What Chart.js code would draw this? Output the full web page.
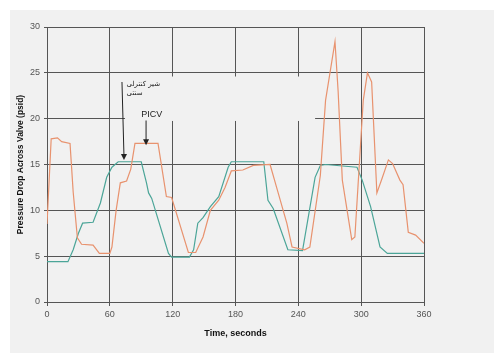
<!DOCTYPE html>
<html>
<head>
<meta charset="utf-8">
<script src="https://cdn.jsdelivr.net/npm/chart.js@4"></script>
<style>
  html, body { margin: 0; padding: 0; background: #fff; }
  #wrap { position: absolute; left: 10px; top: 10px; width: 484px; height: 343px; background: #f1f1f1; }
  canvas { display: block; }
</style>
</head>
<body>
<div id="wrap"><canvas id="chart" width="484" height="343"></canvas></div>
<script>
// PICV (orange)
const picvTime = [0, 4, 10, 14, 22, 25, 29, 33, 44, 50, 60, 62, 66, 70, 76, 80, 84, 106, 114, 119,
  135, 142, 149, 156, 164, 170, 176, 187, 197, 213, 220, 229, 234, 246, 251, 261, 266, 275, 278, 282,
  291, 294, 302, 306, 310, 315, 320, 326, 330, 337, 340, 345, 352, 360];
const picvVal = [8.5, 17.8, 17.9, 17.5, 17.3, 12, 7.0, 6.3, 6.2, 5.3, 5.3, 6.0, 10, 13, 13.2, 14.5, 17.3, 17.3, 11.5, 11.4,
  5.4, 5.4, 7.1, 10, 11.1, 12.5, 14.3, 14.4, 14.9, 15.0, 12.2, 8.6, 6.0, 5.7, 6.0, 13.8, 22, 28.4, 23, 13.3,
  6.8, 7.1, 22, 25.0, 24, 11.9, 13.5, 15.5, 15.1, 13.3, 12.8, 7.6, 7.3, 6.4];

// conventional control valve (green)
const valveTime = [0, 20, 25, 30, 34, 44, 51, 57, 62, 68, 90, 95, 97, 100, 116, 119, 136, 140, 144, 149,
  156, 164, 173, 176, 207, 211, 216, 230, 244, 256, 261, 266, 296, 301, 309, 318, 325, 360];
const valveVal = [4.4, 4.4, 5.7, 7.5, 8.6, 8.7, 10.8, 13.6, 14.7, 15.3, 15.3, 13, 11.9, 11.3, 5.3, 4.9, 4.9, 5.7, 8.6, 9.2,
  10.4, 11.5, 14.7, 15.3, 15.3, 11.1, 10.2, 5.7, 5.6, 13.6, 14.9, 15.0, 14.7, 13.3, 10.4, 6.0, 5.3, 5.3];

const xTicks = [0, 60, 120, 180, 240, 300, 360];
const yTicks = [0, 5, 10, 15, 20, 25, 30];

// annotation labels and arrows, in data units
const labels = [
  { text: 'شیر کنترلی', x: 76, y: 23.8, font: '7px "DejaVu Sans"' },
  { text: 'سنتی', x: 76, y: 22.8, font: '7px "DejaVu Sans"' },
  { text: 'PICV', x: 100, y: 20.5, font: '9px "Liberation Sans", Arial', center: true }
];
const arrows = [
  { x1: 71.6, y1: 24.0, x2: 73.5, y2: 15.5 },
  { x1: 94.6, y1: 19.8, x2: 94.6, y2: 17.1 }
];
// blank area behind the labels (the source hides grid lines there)
const blank = { x1: 74.5, x2: 256, y1: 19.75, y2: 24.6 };

function toPts(t, v) {
  return t.map((x, i) => ({ x: x, y: v[i] }));
}

const annotations = {
  id: 'annotations',
  beforeDatasetsDraw(chart) {
    const { ctx, scales: { x, y } } = chart;
    ctx.save();
    ctx.fillStyle = '#f1f1f1';
    ctx.fillRect(x.getPixelForValue(blank.x1), y.getPixelForValue(blank.y2),
      x.getPixelForValue(blank.x2) - x.getPixelForValue(blank.x1),
      y.getPixelForValue(blank.y1) - y.getPixelForValue(blank.y2));
    ctx.restore();
  },
  afterDatasetsDraw(chart) {
    const { ctx, scales: { x, y } } = chart;
    ctx.save();
    ctx.fillStyle = '#222';
    ctx.strokeStyle = '#222';
    ctx.lineWidth = 1;
    labels.forEach(l => {
      ctx.font = l.font;
      ctx.textBaseline = 'middle';
      ctx.textAlign = l.center ? 'center' : 'left';
      ctx.fillText(l.text, x.getPixelForValue(l.x), y.getPixelForValue(l.y));
    });
    arrows.forEach(a => {
      const px1 = x.getPixelForValue(a.x1), py1 = y.getPixelForValue(a.y1);
      const px2 = x.getPixelForValue(a.x2), py2 = y.getPixelForValue(a.y2);
      ctx.beginPath();
      ctx.moveTo(px1, py1);
      ctx.lineTo(px2, py2 - 4);
      ctx.stroke();
      ctx.beginPath();
      ctx.moveTo(px2, py2);
      ctx.lineTo(px2 - 3, py2 - 6);
      ctx.lineTo(px2 + 3, py2 - 6);
      ctx.closePath();
      ctx.fill();
    });
    ctx.restore();
  }
};

const tickFont = { family: '"Liberation Sans", Arial, sans-serif', size: 9 };

new Chart(document.getElementById('chart'), {
  type: 'line',
  data: {
    datasets: [
      {
        label: 'PICV',
        data: toPts(picvTime, picvVal),
        borderColor: '#e8926e',
        borderWidth: 1.2,
        pointRadius: 0,
        tension: 0
      },
      {
        label: 'Conventional',
        data: toPts(valveTime, valveVal),
        borderColor: '#4ba598',
        borderWidth: 1.2,
        pointRadius: 0,
        tension: 0
      }
    ]
  },
  options: {
    responsive: false,
    animation: false,
    events: [],
    layout: { padding: { left: 0, right: 70, top: 17, bottom: 0 } },
    plugins: { legend: { display: false }, tooltip: { enabled: false } },
    scales: {
      x: {
        type: 'linear',
        min: 0,
        max: 360,
        afterBuildTicks: s => { s.ticks = xTicks.map(v => ({ value: v })); },
        afterFit: s => { s.height = 51; },
        grid: { color: '#555', lineWidth: 1, tickLength: 4, tickColor: '#555' },
        border: { color: '#555', width: 1 },
        ticks: { color: '#555', font: tickFont, padding: 3, maxRotation: 0 },
        title: {
          display: true,
          text: 'Time, seconds',
          color: '#111',
          font: { family: '"Liberation Sans", Arial, sans-serif', size: 9, weight: 'bold' },
          padding: { top: 0, bottom: 14 }
        }
      },
      y: {
        min: 0,
        max: 30,
        afterBuildTicks: s => { s.ticks = yTicks.map(v => ({ value: v })); },
        afterFit: s => { s.width = 37; },
        grid: { color: '#555', lineWidth: 1, tickLength: 3, tickColor: '#555' },
        border: { color: '#555', width: 1 },
        ticks: { color: '#555', font: tickFont, padding: 4 },
        title: {
          display: true,
          text: 'Pressure Drop Across Valve (psid)',
          color: '#111',
          font: { family: '"Liberation Sans", Arial, sans-serif', size: 8.5, weight: 'bold' },
          padding: { top: 6, bottom: 0 }
        }
      }
    }
  },
  plugins: [annotations]
});
</script>
</body>
</html>
